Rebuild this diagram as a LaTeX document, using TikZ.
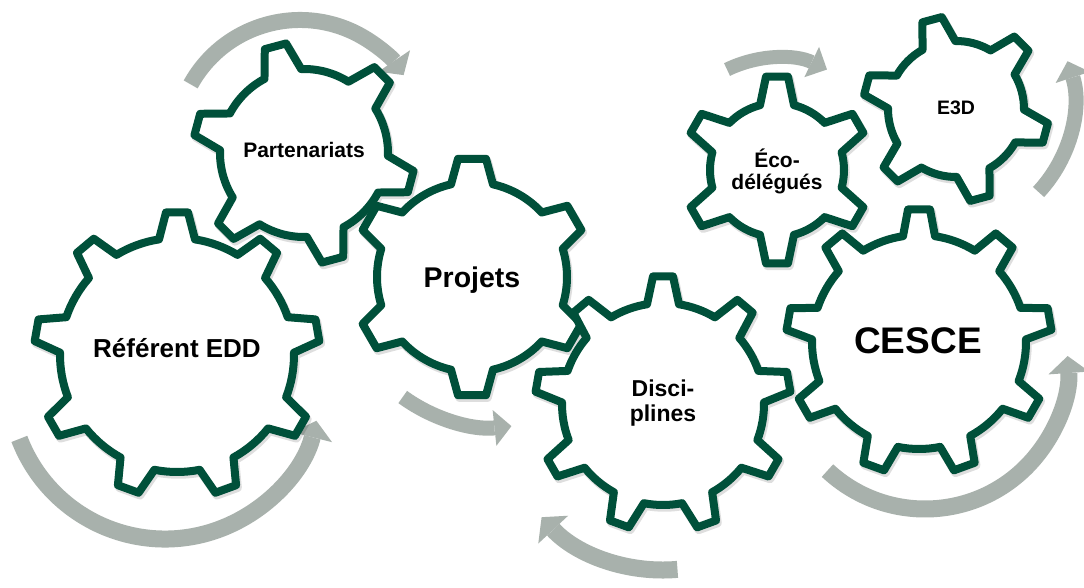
\documentclass[tikz,border=0pt]{standalone}
\usepackage{fontspec}
\setmainfont{Liberation Sans}
\usetikzlibrary{arrows.meta}
\definecolor{geargreen}{RGB}{0,80,58}
\definecolor{arrowgrey}{RGB}{168,177,172}
\tikzset{
  gearline/.style={draw=geargreen, fill=white, line width=8pt, line join=round},
  gearshadow/.style={draw=black, draw opacity=0.13, line width=8.5pt, line join=round},
  geartext/.style={text=black, align=center, inner sep=0pt},
  cycarrow/.style={draw=arrowgrey, line cap=butt},
}
% #1 cx, #2 cy (image), #3 teeth, #4 first tooth angle, #5 tip radius, #6 root radius, #7 tip half width, #8 base half width
\newcommand\drawgear[8]{%
  \pgfmathsetmacro\gstep{360/#3}%
  \pgfmathsetmacro\gta{asin(#7/#5)}%
  \pgfmathsetmacro\gba{asin(#8/#6)}%
  \begin{scope}[shift={(#1,-#2)}]
    \path[gearshadow, xshift=1.5pt, yshift=-2.5pt] ({#4-\gba}:#6)
      \foreach \k in {1,...,#3}{
        -- ({#4+(\k-1)*\gstep-\gta}:#5) -- ({#4+(\k-1)*\gstep+\gta}:#5)
        -- ({#4+(\k-1)*\gstep+\gba}:#6)
        arc[start angle={#4+(\k-1)*\gstep+\gba}, end angle={#4+\k*\gstep-\gba}, radius=#6pt]
      } -- cycle;
    \path[gearline] ({#4-\gba}:#6)
      \foreach \k in {1,...,#3}{
        -- ({#4+(\k-1)*\gstep-\gta}:#5) -- ({#4+(\k-1)*\gstep+\gta}:#5)
        -- ({#4+(\k-1)*\gstep+\gba}:#6)
        arc[start angle={#4+(\k-1)*\gstep+\gba}, end angle={#4+\k*\gstep-\gba}, radius=#6pt]
      } -- cycle;
  \end{scope}
}
% #1 cx, #2 cy (image), #3 radius, #4 start angle, #5 end angle, #6 band width
\newcommand\cyclearrow[6]{%
  \pgfmathsetmacro\awid{2.4*#6}%
  \draw[cycarrow, line width=#6pt, -{Triangle[width=\awid pt, length=17pt, line width=0pt]}]
    ([shift={(#1,-#2)}]#4:#3) arc[start angle=#4, end angle=#5, radius=#3pt];
}
\begin{document}
\begin{tikzpicture}[x=1pt, y=1pt]
\useasboundingbox (0,0) rectangle (1084,-588);
\fill[white] (0,0) rectangle (1084,-588);
% arrows (behind gears)
\cyclearrow{165}{383}{156}{201}{346}{17}
\cyclearrow{300}{145}{125}{151}{34}{16}
\cyclearrow{495}{270}{157}{234}{276}{15}
\cyclearrow{663}{404}{166}{275}{223}{17}
\cyclearrow{777}{172}{114}{116}{64}{14}
\cyclearrow{942}{102}{132}{-43}{18}{15}
\cyclearrow{925}{366}{143}{227}{364}{17}
% gears
\drawgear{177}{355}{9}{90}{143}{117}{11}{18}
\drawgear{304}{153}{6}{105}{111}{84}{11}{19}
\drawgear{472}{277}{6}{90}{119}{95}{14}{21}
\drawgear{663}{404}{9}{90}{128}{101}{10}{16}
\drawgear{777}{170}{6}{90}{94}{67}{11}{17}
\drawgear{956}{109}{6}{105}{93}{68}{10}{17}
\drawgear{919}{342}{9}{90}{133}{107}{11}{16}
% labels
\node[geartext, anchor=base, font=\fontsize{26}{30}\selectfont\bfseries] (referent) at (177,-357) {Référent EDD};
\node[geartext, anchor=base, font=\fontsize{21}{25}\selectfont\bfseries] (partenariats) at (304,-158) {Partenariats};
\node[geartext, anchor=base, font=\fontsize{28.5}{32}\selectfont\bfseries] (projets) at (472,-287) {Projets};
\node[geartext, font=\fontsize{23}{25}\selectfont\bfseries] (disciplines) at (663,-403.5) {Disci-\\plines};
\node[geartext, font=\fontsize{21}{22}\selectfont\bfseries] (ecodelegues) at (777,-171.5) {Éco-\\délégués};
\node[geartext, anchor=base, font=\fontsize{19.5}{23}\selectfont\bfseries] (e3d) at (956,-115) {E3D};
\node[geartext, anchor=base, font=\fontsize{37}{42}\selectfont\bfseries] (cesce) at (918,-353) {CESCE};
\end{tikzpicture}
\end{document}
